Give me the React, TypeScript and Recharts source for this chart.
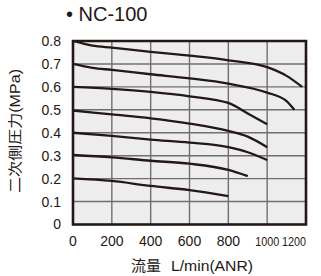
import React from "react";
import { LineChart, Line, XAxis, YAxis, CartesianGrid, ReferenceArea } from "recharts";

const xTicks = [0, 200, 400, 600, 800, 1000, 1200];
const yTicks = [0, 0.1, 0.2, 0.3, 0.4, 0.5, 0.6, 0.7, 0.8];
const yTickLabels = ["0", "0.1", "0.2", "0.3", "0.4", "0.5", "0.6", "0.7", "0.8"];

const flow08 = [0, 100, 200, 400, 600, 800, 1000, 1100, 1180];
const pres08 = [0.8, 0.78, 0.771, 0.753, 0.736, 0.716, 0.686, 0.648, 0.6];
const flow07 = [0, 100, 200, 400, 600, 800, 1000, 1100, 1140];
const pres07 = [0.7, 0.683, 0.674, 0.655, 0.637, 0.614, 0.575, 0.538, 0.5];
const flow06 = [0, 200, 400, 600, 800, 900, 1000];
const pres06 = [0.6, 0.591, 0.578, 0.559, 0.53, 0.484, 0.437];
const flow05 = [0, 200, 400, 600, 800, 900, 1000];
const pres05 = [0.497, 0.48, 0.463, 0.44, 0.408, 0.383, 0.337];
const flow04 = [0, 200, 400, 600, 800, 900, 1000];
const pres04 = [0.4, 0.386, 0.37, 0.357, 0.337, 0.315, 0.281];
const flow03 = [0, 200, 400, 600, 800, 900];
const pres03 = [0.303, 0.293, 0.278, 0.265, 0.238, 0.211];
const flow02 = [0, 200, 400, 600, 800];
const pres02 = [0.201, 0.19, 0.168, 0.15, 0.124];

const seriesList = [
  { name: "0.8", flow: flow08, pres: pres08 },
  { name: "0.7", flow: flow07, pres: pres07 },
  { name: "0.6", flow: flow06, pres: pres06 },
  { name: "0.5", flow: flow05, pres: pres05 },
  { name: "0.4", flow: flow04, pres: pres04 },
  { name: "0.3", flow: flow03, pres: pres03 },
  { name: "0.2", flow: flow02, pres: pres02 },
];

const FONT = '"Liberation Sans", Arial, "Noto Sans CJK JP", sans-serif';
const INK = "#231815";

const XTick = (props: any) => {
  const { x, y, payload } = props;
  const label = String(payload.value);
  const wide = label.length === 4;
  const isLast = payload.value === xTicks[xTicks.length - 1];
  const extra = wide ? { textLength: 24, lengthAdjust: "spacingAndGlyphs" } : {};
  return (
    <text
      x={x}
      y={y}
      dy="0.71em"
      textAnchor={isLast ? "end" : "middle"}
      fontSize={wide ? 13 : 14}
      fill={INK}
      fontFamily={FONT}
      {...extra}
    >
      {label}
    </text>
  );
};

const YTick = (props: any) => {
  const { x, y, payload } = props;
  const i = yTicks.indexOf(payload.value);
  return (
    <text x={x} y={y} dy="0.355em" textAnchor="end" fontSize={14} fill={INK} fontFamily={FONT}>
      {i >= 0 ? yTickLabels[i] : String(payload.value)}
    </text>
  );
};

export default function App() {
  return (
    <div style={{ position: "absolute", left: 0, top: 0, width: 321, height: 276, background: "#fff" }}>
      <LineChart width={321} height={276} margin={{ top: 41, right: 15, bottom: 0, left: 0 }}>
        <CartesianGrid fill="#ededed" stroke="#6f6f6f" strokeWidth={1.4} />
        <XAxis
          dataKey="x"
          type="number"
          domain={[0, 1200]}
          ticks={xTicks}
          interval={0}
          height={51.5}
          axisLine={false}
          tickLine={false}
          tickSize={6}
          tickMargin={6}
          tick={<XTick />}
          allowDuplicatedCategory={false}
        />
        <YAxis
          dataKey="y"
          type="number"
          domain={[0, 0.8]}
          ticks={yTicks}
          interval={0}
          width={73}
          axisLine={false}
          tickLine={false}
          tickSize={6}
          tickMargin={6}
          tick={<YTick />}
        />
        {seriesList.map((s) => (
          <Line
            key={s.name}
            data={s.flow.map((f, i) => ({ x: f, y: s.pres[i] }))}
            dataKey="y"
            type="monotone"
            stroke={INK}
            strokeWidth={2.3}
            dot={false}
            activeDot={false}
            isAnimationActive={false}
          />
        ))}
        <ReferenceArea
          x1={0}
          x2={1200}
          y1={0}
          y2={0.8}
          fill="none"
          fillOpacity={0}
          stroke={INK}
          strokeWidth={2.6}
          ifOverflow="visible"
        />
      </LineChart>
      <svg
        width={321}
        height={276}
        style={{ position: "absolute", left: 0, top: 0, pointerEvents: "none" }}
      >
        <text x={66} y={21} fontSize={20} fill={INK} fontFamily={FONT}>
          • NC-100
        </text>
        <text
          transform="translate(20,131) rotate(-90)"
          textAnchor="middle"
          fontSize={14}
          fill={INK}
          fontFamily={FONT}
          textLength={124}
          lengthAdjust="spacingAndGlyphs"
        >
          二次側圧力(MPa)
        </text>
        <text x={131} y={271} fontSize={14.5} fill={INK} fontFamily={FONT} textLength={30} lengthAdjust="spacingAndGlyphs">
          流量
        </text>
        <text x={171} y={271} fontSize={14.5} fill={INK} fontFamily={FONT} textLength={82} lengthAdjust="spacingAndGlyphs">
          L/min(ANR)
        </text>
      </svg>
    </div>
  );
}
